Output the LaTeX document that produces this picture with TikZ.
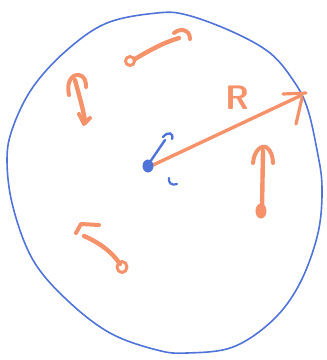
\documentclass[tikz,border=0pt]{standalone}
\usepackage{tikz}
\usetikzlibrary{arrows.meta, positioning, calc}
\definecolor{penblue}{RGB}{80,115,215}
\definecolor{penorange}{RGB}{246,146,106}

\begin{document}
\begin{tikzpicture}[x=1pt, y=-1pt,
  rim/.style={draw=penblue, line width=1.6pt},
  vel/.style={draw=penorange, line width=4.4pt, line cap=round, line join=round},
  tip/.style={draw=penorange, line width=4pt, line cap=round, line join=round},
  centremark/.style={draw=penblue, line width=2.4pt, line cap=round},
]
\useasboundingbox (0,0) rectangle (327,360);
% the disc
\draw[rim] plot[smooth cycle, tension=0.6] coordinates {
  (157,13) (187,15) (233,32) (270,53) (293,80) (307,107) (317,150)
  (322,187) (318,233) (300,283) (273,320) (233,347) (187,353)
  (157,350) (110,333) (67,300) (33,260) (13,207) (7,160) (13,127)
  (33,87) (67,50) (107,23)};
\coordinate (O) at (151,166);
\coordinate (P) at (302,95);

% radius
\draw[vel, line width=3.4pt] (O) -- (P);
\draw[tip, line width=3.2pt] (283,94) -- (306,93);
\draw[tip, line width=3.2pt] (302,98) -- (296,124);
\node[penorange, font=\sffamily\bfseries\fontsize{34}{34}\selectfont] (lblR) at (237,98) {R};

% centre
\fill[penblue] (148,166) ellipse (5.5 and 6.5);
\draw[centremark] (150,162) -- (165,140);
\draw[centremark] (163,137) .. controls (168,131) and (174,133) .. (172,139);
\draw[centremark, line width=2.2pt] (169,178) .. controls (168,183) and (172,186) .. (177,184);

% velocity arrows
\draw[vel] (135,59) .. controls (150,50) and (165,42) .. (179,38);
\draw[vel, line width=3pt] (130,61) ellipse (4.5 and 4.5);
\draw[tip] (174,33) .. controls (180,28) and (190,29) .. (190,39);

\draw[vel] (75,80) .. controls (79,95) and (83,108) .. (85,121);
\draw[tip] (69,95) .. controls (66,82) and (72,74) .. (79,75)
  .. controls (85,76) and (86,82) .. (86,87);
\draw[tip] (79,114) -- (84,124) -- (90,118);

\draw[vel] (263,151) -- (262,209);
\fill[penorange] (261,211) ellipse (5.5 and 7.5);
\draw[tip] (253,163) .. controls (254,150) and (262,145) .. (266,147)
  .. controls (271,150) and (273,157) .. (273,163);

\draw[vel] (84,236) .. controls (100,243) and (112,252) .. (120,264);
\draw[vel, line width=3pt] (122,267) ellipse (5 and 5.5);
\draw[tip] (99,225) -- (81,224) -- (76,233);
\end{tikzpicture}
\end{document}
